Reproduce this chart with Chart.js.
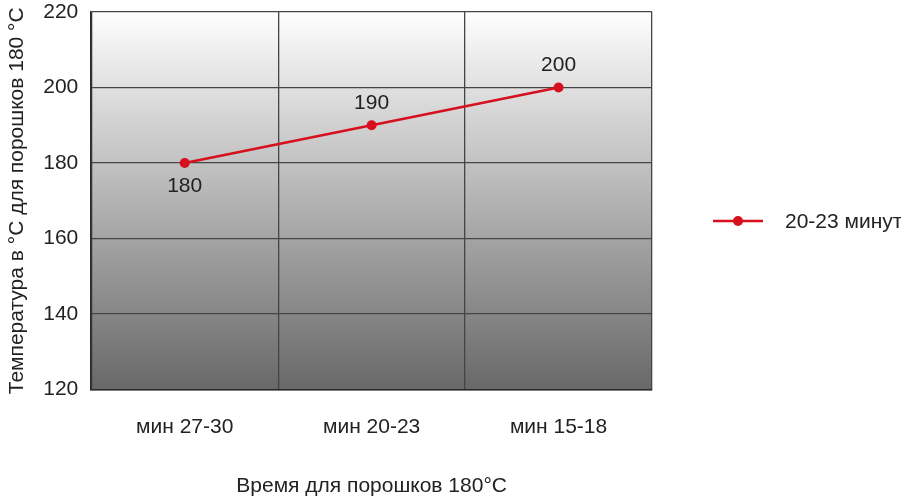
<!DOCTYPE html>
<html>
<head>
<meta charset="utf-8">
<script src="https://cdn.jsdelivr.net/npm/chart.js@4/dist/chart.umd.min.js"></script>
<style>
  html, body { margin: 0; padding: 0; background: #fff; }
  #wrap { width: 901px; height: 499px; }
</style>
</head>
<body>
<div id="wrap"><canvas id="myChart" width="901" height="499"></canvas></div>
<script>
const categories = ['мин 27-30', 'мин 20-23', 'мин 15-18'];
const temps = [180, 190, 200];
const seriesName = '20-23 минут';
const yTicks = [120, 140, 160, 180, 200, 220];
const labelSide = ['below', 'above', 'above'];

const FONT = "'Liberation Sans', Arial, sans-serif";
const FS = 21;
const RED = '#d6101c';
const TEXT = '#222';

// gray gradient behind the plot
const bgPlugin = {
    id: 'bg',
    beforeDraw(chart) {
        const a = chart.chartArea, c = chart.ctx;
        const g = c.createLinearGradient(0, a.top, 0, a.bottom);
        g.addColorStop(0, '#fefefe');
        g.addColorStop(1, '#686868');
        c.save();
        c.fillStyle = g;
        c.fillRect(a.left, a.top, a.right - a.left, a.bottom - a.top);
        c.restore();
    }
};

// value labels and the legend on the right
const extras = {
    id: 'extras',
    afterDatasetsDraw(chart) {
        const c = chart.ctx;
        const meta = chart.getDatasetMeta(0);
        c.save();
        c.font = FS + 'px ' + FONT;
        c.fillStyle = TEXT;
        c.textAlign = 'center';
        c.textBaseline = 'middle';
        meta.data.forEach((pt, i) => {
            const dy = labelSide[i] === 'below' ? 23 : -22;
            c.fillText(String(temps[i]), pt.x, pt.y + dy);
        });
        // legend
        const a = chart.chartArea;
        const lx = a.right + 61, ly = 221;
        c.strokeStyle = RED;
        c.lineWidth = 2.5;
        c.beginPath();
        c.moveTo(lx, ly);
        c.lineTo(lx + 50, ly);
        c.stroke();
        c.fillStyle = RED;
        c.beginPath();
        c.arc(lx + 25, ly, 5, 0, Math.PI * 2);
        c.fill();
        c.fillStyle = TEXT;
        c.textAlign = 'left';
        c.fillText(seriesName, lx + 72, ly + 1);
        c.restore();
    }
};

const ctx = document.getElementById('myChart').getContext('2d');
const chart = new Chart(ctx, {
    type: 'line',
    data: {
        labels: categories,
        datasets: [{
            label: seriesName,
            data: temps,
            borderColor: RED,
            backgroundColor: RED,
            borderWidth: 2.5,
            pointRadius: 5,
            pointHoverRadius: 5,
            pointBackgroundColor: RED,
            pointBorderWidth: 0,
            tension: 0
        }]
    },
    options: {
        responsive: false,
        animation: false,
        layout: { padding: { top: 0, right: 249, bottom: 0, left: 0 } },
        plugins: {
            legend: { display: false },
            tooltip: { enabled: false }
        },
        scales: {
            x: {
                offset: true,
                grid: { offset: true, color: '#454545', lineWidth: 1.3, drawTicks: false },
                border: { color: '#2a2a2a', width: 1.5 },
                ticks: { color: TEXT, font: { family: FONT, size: FS }, padding: 25 },
                title: {
                    display: true,
                    text: 'Время для порошков 180°C',
                    color: TEXT,
                    font: { family: FONT, size: FS },
                    padding: { top: 9, bottom: 0 }
                }
            },
            y: {
                min: 120,
                max: 220,
                afterBuildTicks(scale) {
                    scale.ticks = yTicks.map(v => ({ value: v }));
                },
                afterFit(scale) {
                    scale.paddingTop = 12;
                },
                grid: { color: '#454545', lineWidth: 1.3, drawTicks: false },
                border: { color: '#2a2a2a', width: 1.5 },
                ticks: { color: TEXT, font: { family: FONT, size: FS }, padding: 13 },
                title: {
                    display: true,
                    text: 'Температура в °C для порошков 180 °C',
                    color: TEXT,
                    font: { family: FONT, size: FS },
                    padding: { top: 5, bottom: 0 }
                }
            }
        }
    },
    plugins: [bgPlugin, extras]
});
</script>
</body>
</html>
